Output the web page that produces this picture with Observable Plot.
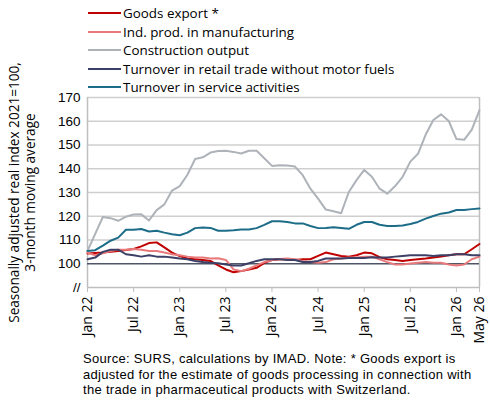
<!DOCTYPE html>
<html><head><meta charset="utf-8">
<script src="https://cdn.jsdelivr.net/npm/d3@7"></script>
<script src="https://cdn.jsdelivr.net/npm/@observablehq/plot@0.6"></script>
<style>
body{margin:0;background:#fff;font-family:"Open Sans",Arial,sans-serif;}
#wrap{position:relative;width:490px;height:401px;overflow:hidden;}
#chart{position:absolute;left:0;top:0;}
#legend{position:absolute;left:88px;top:4px;font-size:13.4px;color:#000;}
.item{display:flex;align-items:center;height:18.5px;white-space:nowrap;}
.sw{width:33px;height:2px;margin-right:2px;flex:none;}
#caption{position:absolute;left:83px;top:351.4px;font-family:"Liberation Sans",Arial,sans-serif;font-size:13px;letter-spacing:0.3px;line-height:15.2px;color:#000;white-space:nowrap;}
</style>
</head><body>
<div id="wrap">
<div id="chart"></div>
<div id="legend"></div>
<div id="caption"></div>
</div>
<script>
const seriesNames = ["Goods export *","Ind. prod. in manufacturing","Construction output","Turnover in retail trade without motor fuels","Turnover in service activities"];
const seriesColors = ["#C00000","#E97A7C","#AEB3B9","#3D4066","#1D6D89"];

const goodsExport = [104.3,104.5,104.7,105.0,105.4,105.8,106.2,107.3,108.7,109.0,106.9,104.7,103.2,102.2,101.9,101.6,101.2,99.3,97.6,96.4,96.9,97.6,98.3,100.4,101.6,101.9,101.9,101.6,101.9,101.9,103.3,104.7,104.0,103.3,103.0,103.6,104.7,104.4,102.8,101.9,101.6,101.2,101.6,101.9,102.2,102.6,103.0,103.6,104.0,104.0,106.1,108.3];
const indProd = [104.7,103.6,104.4,105.4,105.9,105.9,106.2,105.9,105.4,105.4,104.7,104.0,103.6,103.0,102.6,102.6,102.2,102.3,101.6,97.6,96.9,97.9,99.3,100.7,101.6,102.0,102.2,101.9,101.2,100.7,100.4,100.7,101.9,102.2,102.6,102.6,103.0,103.0,101.9,100.7,99.7,99.7,100.1,100.4,100.7,100.4,100.4,99.7,99.3,99.7,101.9,103.0];
const construction = [105.4,112.6,119.7,119.2,118.1,119.8,120.7,120.8,118.2,122.6,125.0,130.8,132.7,137.5,144.1,144.8,146.8,147.5,147.6,147.1,146.4,147.6,147.6,144.4,141.2,141.5,141.4,140.9,137.3,131.6,127.4,122.8,122.1,121.3,130.2,135.2,139.5,136.6,131.6,129.5,132.6,136.6,143.0,146.3,154.4,160.5,162.9,160.1,152.5,152.2,156.5,164.7];
const retail = [101.9,102.6,105.0,105.9,105.9,104.0,103.6,103.0,103.6,103.0,103.0,102.6,102.2,101.9,101.2,100.7,100.4,100.2,99.7,99.3,99.3,100.2,101.2,101.9,101.9,101.9,101.6,101.6,100.7,100.7,101.2,102.2,102.2,102.2,102.4,102.4,102.4,102.7,102.6,102.6,103.0,103.3,103.6,103.6,103.6,103.3,103.6,103.6,104.0,104.0,103.6,103.6];
const services = [105.4,105.7,107.6,109.7,111.0,114.3,114.3,114.6,113.6,113.9,113.1,112.4,112.0,113.1,115.0,115.3,115.1,113.9,113.9,114.1,114.4,114.4,115.0,116.4,117.9,117.9,117.6,117.0,117.0,115.9,115.0,115.1,115.4,115.1,114.7,116.4,117.6,117.6,116.4,115.9,115.9,116.1,116.7,117.6,119.0,120.1,121.1,121.6,122.6,122.6,123.0,123.3];

const xTickIdx = [0,6,12,18,24,30,36,42,48,51];
const xTickLabels = ["Jan 22","Jul 22","Jan 23","Jul 23","Jan 24","Jul 24","Jan 25","Jul 25","Jan 26","May 26"];
const yTicks = [90,100,110,120,130,140,150,160,170];
const yGrid = [110,120,130,140,150,160,170];
const yTitle = "Seasonally adjusted real index 2021=100,\n3-month moving average";
const captionLines = ["Source: SURS, calculations by IMAD. Note: * Goods export is","adjusted for the estimate of goods processing in connection with","the trade in pharmaceutical products with Switzerland."];

const allSeries = [goodsExport, indProd, construction, retail, services];
const rows = [];
allSeries.forEach((vals, k) => vals.forEach((v, i) => rows.push({i, v, name: seriesNames[k]})));

const font = '"Open Sans", Arial, sans-serif';
const chart = Plot.plot({
  width: 490, height: 350,
  marginTop: 97, marginBottom: 63, marginLeft: 87, marginRight: 11,
  style: {fontFamily: font, fontSize: "13px", color: "#000", background: "transparent", overflow: "visible"},
  x: {domain: [0, xTickIdx[xTickIdx.length - 1]], axis: null},
  y: {domain: [90, 170], axis: null},
  color: {domain: seriesNames, range: seriesColors},
  marks: [
    Plot.ruleY(yGrid, {stroke: "#CFCFCF", strokeWidth: 1.5}),
    Plot.ruleY([90], {stroke: "#BFBFBF", strokeWidth: 1.5}),
    Plot.ruleX([0, xTickIdx[xTickIdx.length - 1]], {stroke: "#BFBFBF", strokeWidth: 1.5}),
    Plot.ruleY([100], {stroke: "#4D5566", strokeWidth: 1.5}),
    Plot.line(rows, {x: "i", y: "v", z: "name", stroke: "name", strokeWidth: 2}),
    Plot.axisX({ticks: xTickIdx, tickFormat: d => xTickLabels[xTickIdx.indexOf(d)], tickRotate: -90, tickSize: 5, tickPadding: 4, stroke: "#BFBFBF", fill: "#000", label: null, fontSize: 14}),
    Plot.axisY({ticks: yTicks, tickFormat: d => d === 90 ? "//" : String(d), tickSize: 0, tickPadding: 7, fill: "#000", label: null, fontSize: 13.5, fontFamily: '"Liberation Sans", Arial, sans-serif'}),
    Plot.text([yTitle], {text: d => d, frameAnchor: "left", rotate: -90, dx: -66, lineHeight: 1.2, fontSize: 13.6, fill: "#000", textAnchor: "middle", lineAnchor: "middle"})
  ]
});
document.getElementById("chart").appendChild(chart);

const legend = document.getElementById("legend");
seriesNames.forEach((n, k) => {
  const it = document.createElement("div"); it.className = "item";
  const sw = document.createElement("span"); sw.className = "sw"; sw.style.background = seriesColors[k];
  const t = document.createElement("span"); t.textContent = n;
  it.appendChild(sw); it.appendChild(t); legend.appendChild(it);
});
document.getElementById("caption").innerHTML = captionLines.map(s => s.replace(/&/g,"&amp;").replace(/</g,"&lt;")).join("<br>");
</script>
</body></html>
